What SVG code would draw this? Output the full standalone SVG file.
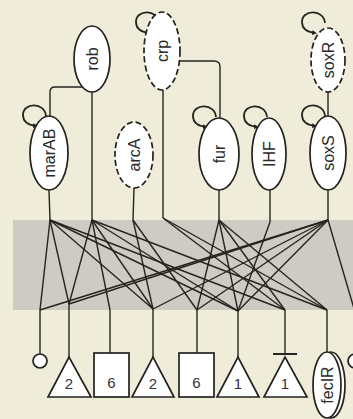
<svg xmlns="http://www.w3.org/2000/svg" xmlns:xlink="http://www.w3.org/1999/xlink" width="353" height="419" viewBox="0 0 353 419">
<style>
.node{fill:#fff;stroke:#22221e;stroke-width:1.7}
.dash{stroke-dasharray:6 3}
.lbl{font-family:"Liberation Sans",Arial,sans-serif;font-size:16px;fill:#2a2a2a;text-anchor:middle}
.num{font-family:"Liberation Sans",Arial,sans-serif;font-size:15px;fill:#333;text-anchor:middle}
.edge{fill:none;stroke:#25251f;stroke-width:1.4}
.loop{fill:none;stroke:#25251f;stroke-width:1.8}
</style>
<defs>
<marker id="arr" viewBox="0 0 10 10" refX="6" refY="5" markerWidth="5" markerHeight="5" orient="auto" markerUnits="userSpaceOnUse">
<path d="M0 0 L10 5 L0 10 z" fill="#25251f"/>
</marker>
<path id="loop" class="loop" d="M25 13 C24 -1 2 -1 2 12 C2 18 7 22 15 23" marker-end="url(#arr)"/>
</defs>
<rect x="0" y="0" width="353" height="419" fill="#efedda"/>
<rect x="13" y="220" width="345" height="90" fill="#cdcbc3"/>
<g id="connectors">
<path class="edge" d="M82 87 H55 Q50 87 50 92 V116"/>
<path class="edge" d="M180 61 H214 Q220 61 220 67 V118"/>
<path class="edge" d="M328 92 V116"/>
<path class="edge" d="M49 190 L50 220"/>
<path class="edge" d="M92 92 V220"/>
<path class="edge" d="M163 90 V218"/>
<path class="edge" d="M134 188 L133 220"/>
<path class="edge" d="M219 190 V220"/>
<path class="edge" d="M270 190 V222"/>
<path class="edge" d="M328 190 V220"/>
<path class="edge" d="M50 220 L40 310"/>
<path class="edge" d="M50 220 L69 304"/>
<path class="edge" d="M50 220 L153 309"/>
<path class="edge" d="M50 220 L238 311"/>
<path class="edge" d="M50 220 L285 310"/>
<path class="edge" d="M92 220 L69 304"/>
<path class="edge" d="M92 220 L110 310"/>
<path class="edge" d="M92 220 L153 309"/>
<path class="edge" d="M92 220 L238 311"/>
<path class="edge" d="M92 220 L327 310"/>
<path class="edge" d="M133 220 L153 309"/>
<path class="edge" d="M133 220 L197 310"/>
<path class="edge" d="M163 218 L327 310"/>
<path class="edge" d="M163 218 L285 310"/>
<path class="edge" d="M219 220 L197 310"/>
<path class="edge" d="M219 220 L238 311"/>
<path class="edge" d="M219 220 L285 310"/>
<path class="edge" d="M219 220 L327 310"/>
<path class="edge" d="M270 222 L238 311"/>
<path class="edge" d="M328 220 L40 310"/>
<path class="edge" d="M328 220 L69 304"/>
<path class="edge" d="M328 220 L153 309"/>
<path class="edge" d="M328 220 L197 310"/>
<path class="edge" d="M328 220 L238 311"/>
<path class="edge" d="M328 220 L355 312"/>
<path class="edge" d="M40 310 V354"/>
<path class="edge" d="M69 304 V357"/>
<path class="edge" d="M110 310 V353"/>
<path class="edge" d="M153 309 V357"/>
<path class="edge" d="M197 310 V353"/>
<path class="edge" d="M238 311 V357"/>
<path class="edge" d="M285 310 V354"/>
<path class="edge" d="M273 354 H297" style="stroke-width:2"/>
<path class="edge" d="M327 310 V352"/>
<path class="edge" d="M355 312 V354"/>
</g>
<g id="rob"><ellipse class="node" cx="92" cy="59" rx="18" ry="33"/><text class="lbl" transform="translate(97.5 59) rotate(-90)">rob</text></g>
<g id="crp"><use href="#loop" transform="translate(134 10)"/><ellipse class="node dash" cx="162" cy="51" rx="18" ry="39"/><text class="lbl" transform="translate(167.5 51) rotate(-90)">crp</text></g>
<g id="soxR"><use href="#loop" transform="translate(300 10)"/><ellipse class="node dash" cx="328" cy="60" rx="17" ry="32"/><text class="lbl" transform="translate(333.5 60) rotate(-90)">soxR</text></g>
<g id="marAB"><use href="#loop" transform="translate(21 103)"/><ellipse class="node" cx="49" cy="153" rx="19" ry="37"/><text class="lbl" transform="translate(54.5 153) rotate(-90)">marAB</text></g>
<g id="arcA"><ellipse class="node dash" cx="134" cy="155" rx="19" ry="33"/><text class="lbl" transform="translate(139.5 155) rotate(-90)">arcA</text></g>
<g id="fur"><use href="#loop" transform="translate(191 104)"/><ellipse class="node" cx="219" cy="154" rx="20" ry="36"/><text class="lbl" transform="translate(224.5 154) rotate(-90)">fur</text></g>
<g id="IHF"><use href="#loop" transform="translate(242 104)"/><ellipse class="node" cx="269" cy="154" rx="17" ry="36"/><text class="lbl" transform="translate(274.5 154) rotate(-90)">IHF</text></g>
<g id="soxS"><use href="#loop" transform="translate(300 103)"/><ellipse class="node" cx="328" cy="153" rx="18" ry="37"/><text class="lbl" transform="translate(333.5 153) rotate(-90)">soxS</text></g>
<g id="out-circle"><circle class="node" cx="40" cy="361" r="7"/></g>
<g id="out-tri2a"><polygon class="node" points="48,397 69,357 91,397"/><text class="num" x="69" y="389">2</text></g>
<g id="out-sq6a"><rect class="node" x="94" y="353" width="35" height="44"/><text class="num" x="111.5" y="388">6</text></g>
<g id="out-tri2b"><polygon class="node" points="132,397 153,357 174,397"/><text class="num" x="153" y="389">2</text></g>
<g id="out-sq6b"><rect class="node" x="179" y="353" width="35" height="44"/><text class="num" x="196.5" y="388">6</text></g>
<g id="out-tri1a"><polygon class="node" points="217,397 238,357 259,397"/><text class="num" x="238" y="389">1</text></g>
<g id="out-tri1b"><polygon class="node" points="264,397 285,357 307,397"/><text class="num" x="285" y="389">1</text></g>
<g id="fecIR"><ellipse class="node" cx="331" cy="385" rx="14" ry="33"/><ellipse class="node" cx="327" cy="385" rx="14" ry="33"/><text class="lbl" transform="translate(332.5 385) rotate(-90)">fecIR</text></g>
<g id="out-circle2"><circle class="node" cx="355" cy="361" r="7"/></g>
</svg>
